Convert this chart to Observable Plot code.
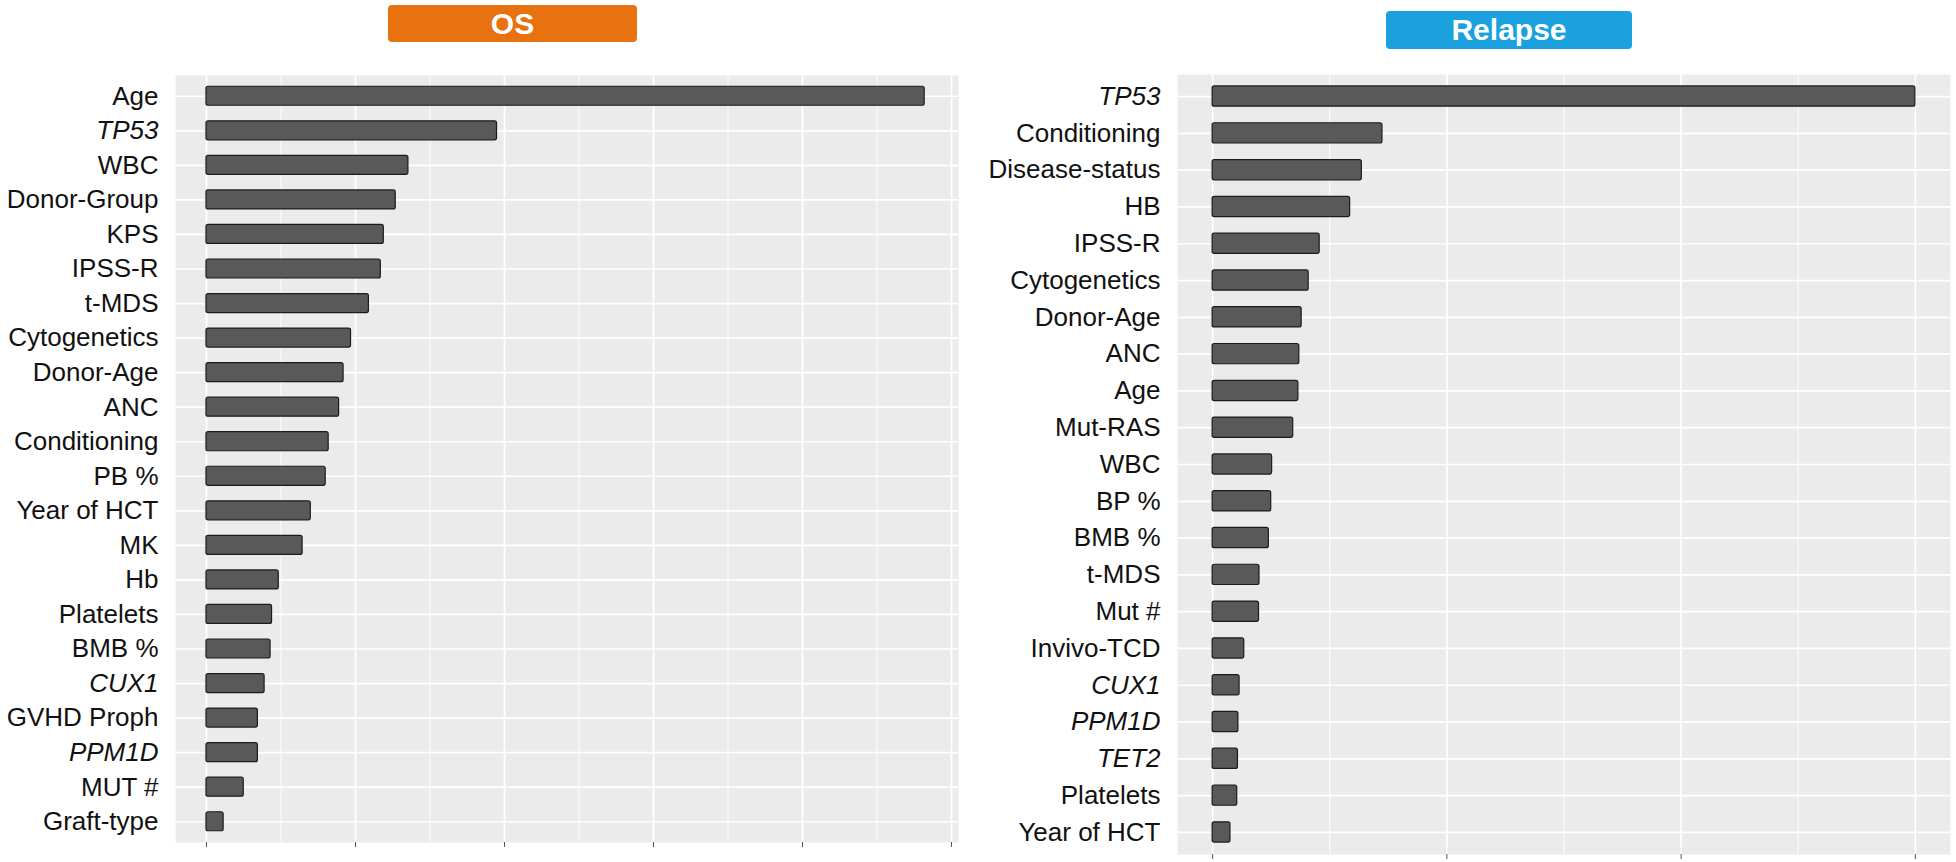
<!DOCTYPE html>
<html>
<head>
<meta charset="utf-8">
<script src="https://cdn.jsdelivr.net/npm/d3@7"></script>
<script src="https://cdn.jsdelivr.net/npm/@observablehq/plot@0.6"></script>
<style>
  html, body { margin: 0; padding: 0; background: #fff; }
  #root { position: relative; width: 1956px; height: 862px; overflow: hidden; font-family: "Liberation Sans", Arial, Helvetica, sans-serif; }
  .tag { position: absolute; color: #fff; font-weight: bold; font-size: 30px; display: flex; align-items: center; justify-content: center; border-radius: 4px; }
  .panel { position: absolute; }
</style>
</head>
<body>
<div id="root">
  <div class="tag" id="osTag" style="left:388px; top:5px; width:249px; height:37px; background:#e8720f;">OS</div>
  <div class="tag" id="relTag" style="left:1386px; top:11px; width:246px; height:38px; background:#1ba1de;">Relapse</div>
  <div class="panel" id="osPanel" style="left:0px; top:50px;"></div>
  <div class="panel" id="relPanel" style="left:970px; top:50px;"></div>
</div>
<script>
// ---- OS panel data ----
const osLabels = ["Age", "TP53", "WBC", "Donor-Group", "KPS", "IPSS-R", "t-MDS", "Cytogenetics", "Donor-Age", "ANC", "Conditioning", "PB %", "Year of HCT", "MK", "Hb", "Platelets", "BMB %", "CUX1", "GVHD Proph", "PPM1D", "MUT #", "Graft-type"];
const osValues = [4.82, 1.95, 1.355, 1.27, 1.19, 1.17, 1.09, 0.97, 0.92, 0.89, 0.82, 0.80, 0.70, 0.645, 0.485, 0.44, 0.43, 0.39, 0.345, 0.345, 0.25, 0.115];
const osItalic = ["TP53", "CUX1", "PPM1D"];
const osTicks = [0, 1, 2, 3, 4, 5];
const osMinor = [0.5, 1.5, 2.5, 3.5, 4.5];

// ---- Relapse panel data ----
const relLabels = ["TP53", "Conditioning", "Disease-status", "HB", "IPSS-R", "Cytogenetics", "Donor-Age", "ANC", "Age", "Mut-RAS", "WBC", "BP %", "BMB %", "t-MDS", "Mut #", "Invivo-TCD", "CUX1", "PPM1D", "TET2", "Platelets", "Year of HCT"];
const relValues = [3.0, 0.725, 0.637, 0.587, 0.457, 0.41, 0.38, 0.37, 0.366, 0.344, 0.254, 0.25, 0.24, 0.20, 0.198, 0.135, 0.115, 0.11, 0.108, 0.105, 0.076];
const relItalic = ["TP53", "CUX1", "PPM1D", "TET2"];
const relTicks = [0, 1, 2, 3];
const relMinor = [0.5, 1.5, 2.5];

const FONT = '"Liberation Sans", Arial, Helvetica, sans-serif';

function panel({labels, values, italic, ticks, minor, domain, width, height, marginLeft, marginRight, marginTop, marginBottom}) {
  const data = labels.map((label, i) => ({label, value: values[i]}));
  const normal = labels.filter(l => !italic.includes(l));
  const ital = labels.filter(l => italic.includes(l));
  return Plot.plot({
    width, height, marginLeft, marginRight, marginTop, marginBottom,
    style: {fontFamily: FONT, background: "transparent", overflow: "visible"},
    x: {domain, label: null},
    y: {domain: labels, paddingInner: 0.45, paddingOuter: 0.325, round: false, label: null},
    marks: [
      Plot.frame({fill: "#ebebeb", stroke: null}),
      Plot.ruleX(minor, {stroke: "#ffffff", strokeWidth: 0.9}),
      Plot.ruleX(ticks, {stroke: "#ffffff", strokeWidth: 1.7}),
      Plot.ruleY(labels, {y: d => d, stroke: "#ffffff", strokeWidth: 1.7}),
      Plot.barX(data, {x: "value", y: "label", fill: "#595959", stroke: "#1c1c1c", strokeWidth: 1.2, rx: 2}),
      Plot.axisX(ticks, {tickSize: 5, tickPadding: 0, tickFormat: () => "", stroke: "#555", strokeWidth: 1, label: null}),
      Plot.axisY(normal, {tickSize: 0, tickPadding: 17, fontSize: 26, fill: "#111", label: null}),
      Plot.axisY(ital, {tickSize: 0, tickPadding: 17, fontSize: 26, fill: "#111", fontStyle: "italic", label: null})
    ]
  });
}

document.getElementById("osPanel").append(panel({
  labels: osLabels, values: osValues, italic: osItalic, ticks: osTicks, minor: osMinor,
  domain: [-0.208, 5.047], width: 970, height: 812,
  marginLeft: 175, marginRight: 12, marginTop: 25, marginBottom: 20
}));

document.getElementById("relPanel").append(panel({
  labels: relLabels, values: relValues, italic: relItalic, ticks: relTicks, minor: relMinor,
  domain: [-0.15, 3.15], width: 986, height: 824,
  marginLeft: 207, marginRight: 6, marginTop: 24, marginBottom: 20
}));
</script>
</body>
</html>
